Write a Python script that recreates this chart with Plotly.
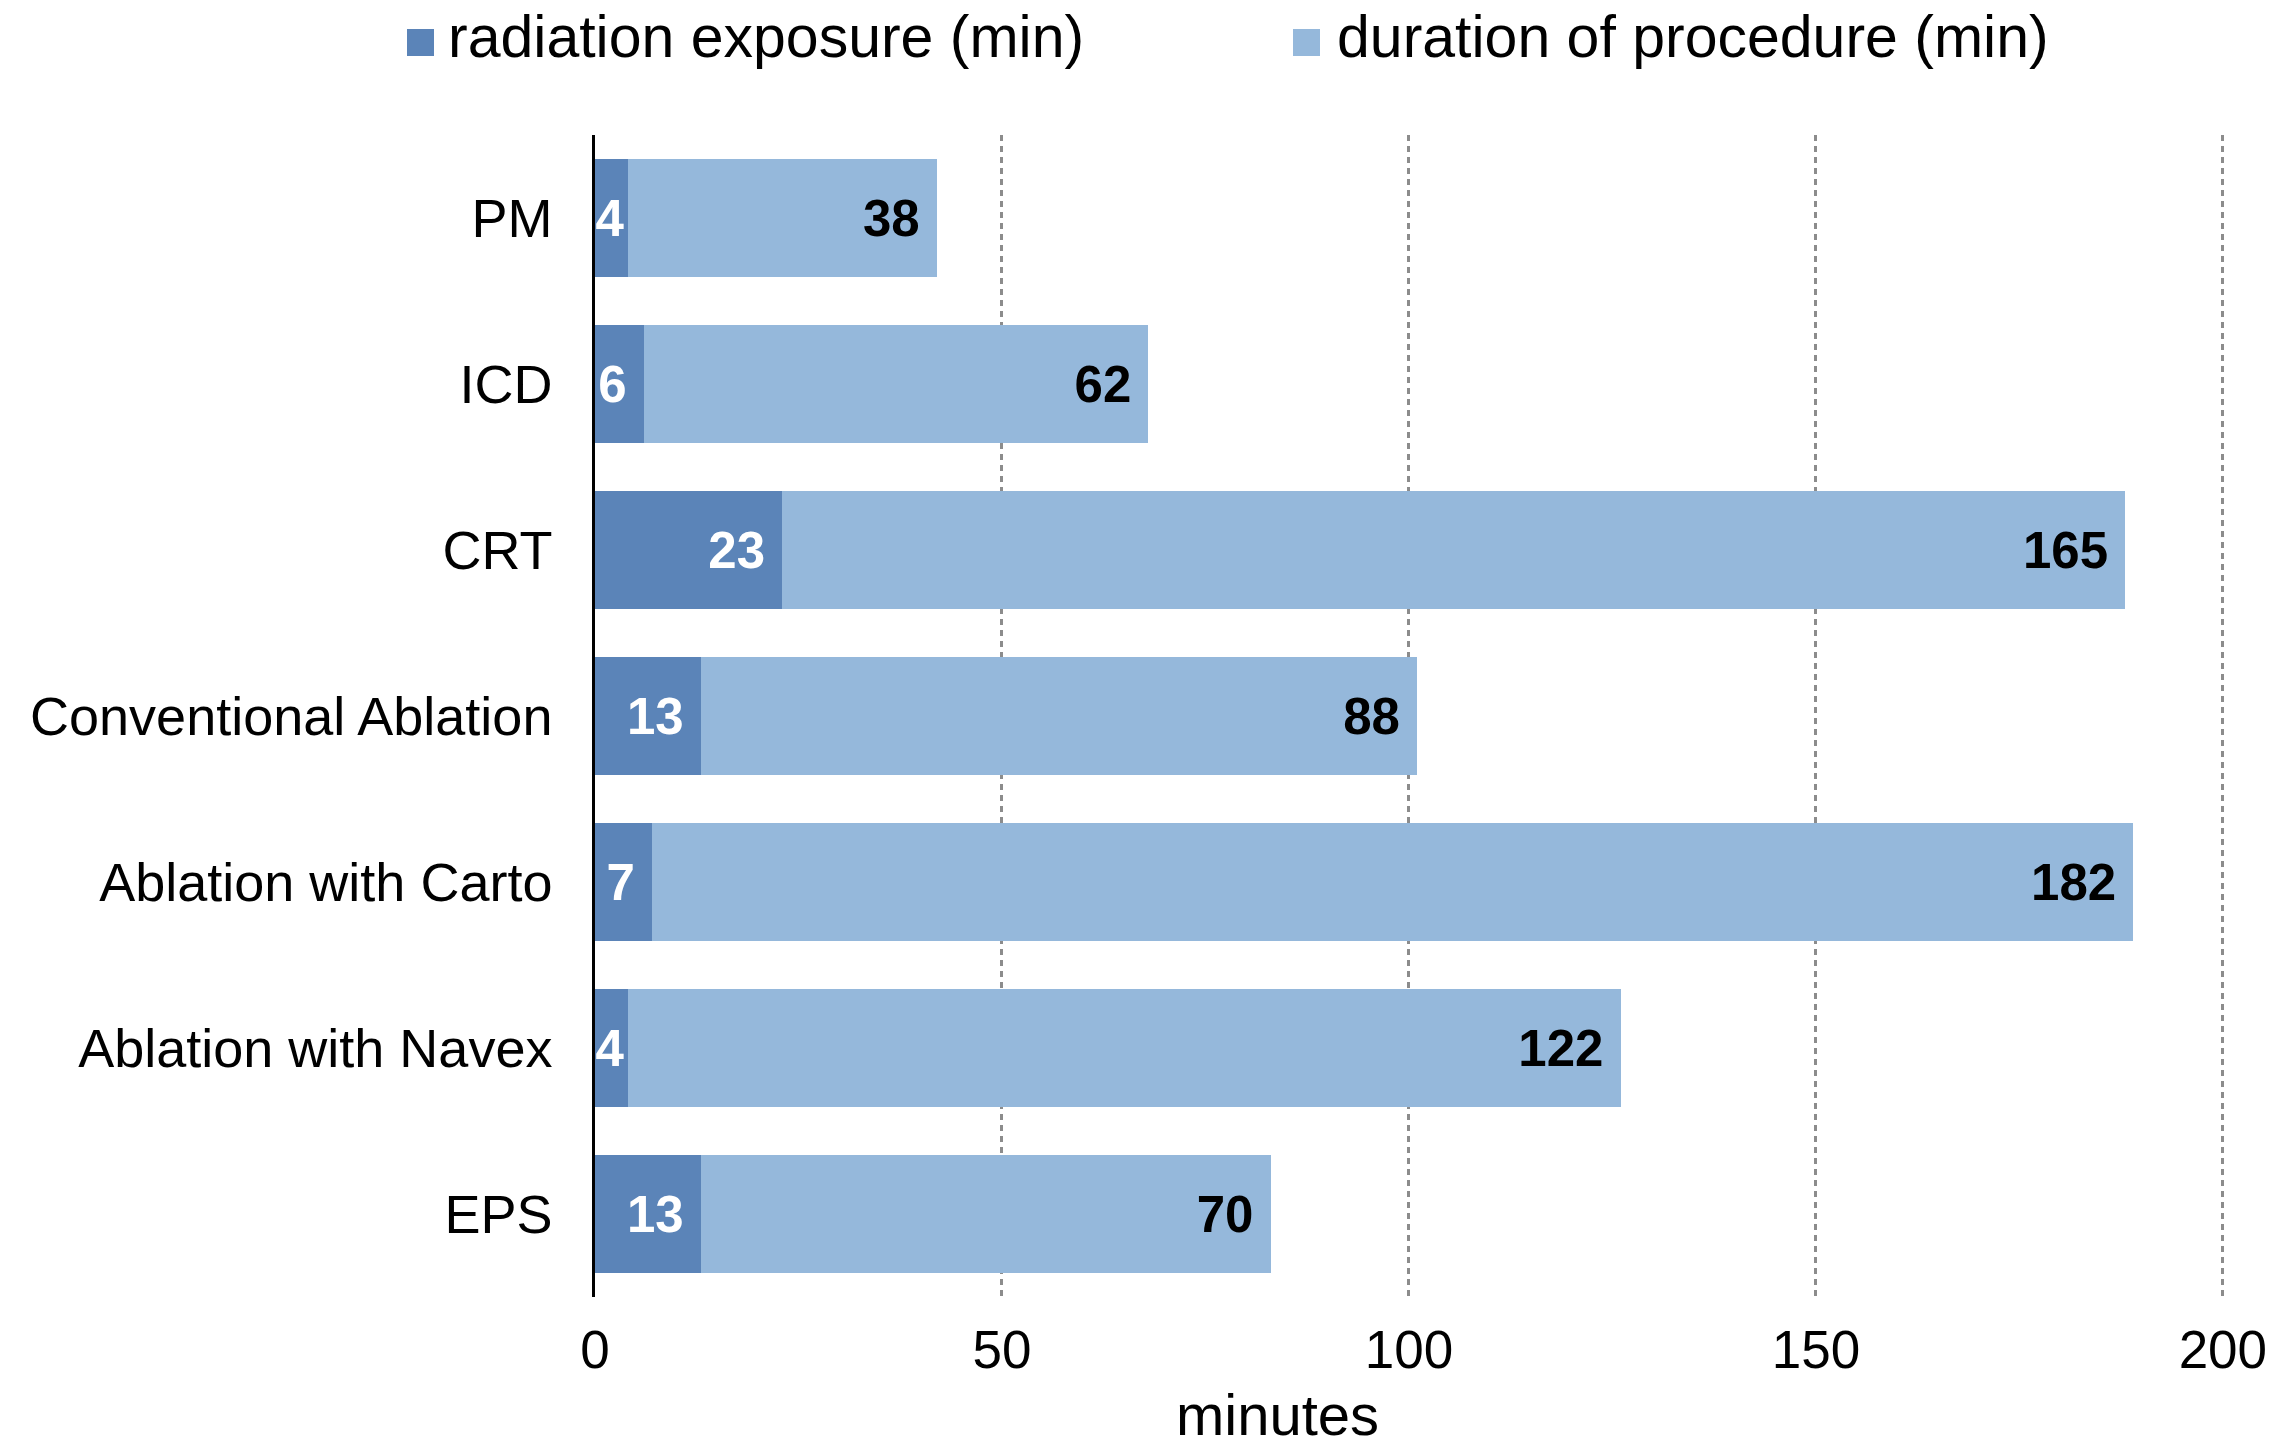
import plotly.graph_objects as go

# ---------------- data ----------------
categories = ["PM", "ICD", "CRT", "Conventional Ablation",
              "Ablation with Carto", "Ablation with Navex", "EPS"]
radiation = [4, 6, 23, 13, 7, 4, 13]
duration = [38, 62, 165, 88, 182, 122, 70]
series_names = ["radiation exposure (min)", "duration of procedure (min)"]
x_ticks = [0, 50, 100, 150, 200]
x_range = [0, 201]
x_title = "minutes"

# ---------------- layout constants ----------------
W, H = 2288, 1449
L, R, T, B = 595, 57, 135, 152
PW = W - L - R
PH = H - T - B


def px_x(px):
    return (px - L) / PW


def px_y(py):
    return (H - B - py) / PH


DARK = "#5B84B8"
LIGHT = "#95B8DB"
FONT = "Liberation Sans"
LABEL_SIZE = 51
PX_PER_UNIT = PW / (x_range[1] - x_range[0])
NBSP = "\u00a0"


def inside_label(v):
    # add a trailing pad (like the original's inside-end label offset) only if it fits
    need = len(str(v)) * 0.556 * LABEL_SIZE + 0.278 * LABEL_SIZE + 6
    return f"{v}{NBSP}" if v * PX_PER_UNIT >= need else str(v)


fig = go.Figure()
fig.add_trace(go.Bar(
    y=categories, x=radiation, orientation="h", name=series_names[0],
    marker=dict(color=DARK, line=dict(width=0)),
    text=[inside_label(v) for v in radiation],
    textposition="inside", insidetextanchor="end", textangle=0,
    constraintext="none",
    insidetextfont=dict(family=FONT, size=LABEL_SIZE, color="white", weight="bold"),
    hoverinfo="x+y+name",
))
fig.add_trace(go.Bar(
    y=categories, x=duration, orientation="h", name=series_names[1],
    marker=dict(color=LIGHT, line=dict(width=0)),
    text=[inside_label(v) for v in duration],
    textposition="inside", insidetextanchor="end", textangle=0,
    constraintext="none",
    insidetextfont=dict(family=FONT, size=LABEL_SIZE, color="black", weight="bold"),
    hoverinfo="x+y+name",
))

fig.update_layout(
    barmode="stack", bargap=0.295,
    width=W, height=H,
    margin=dict(l=L, r=R, t=T, b=B, pad=0),
    plot_bgcolor="white", paper_bgcolor="white",
    showlegend=False,
    font=dict(family=FONT, color="black"),
)
fig.update_xaxes(
    range=x_range, tickvals=x_ticks, showgrid=True,
    gridcolor="#8C8C8C", gridwidth=2.5, griddash="6px,5px",
    zeroline=False, showline=False, ticks="",
    tickfont=dict(family=FONT, size=53, color="black"),
    ticklabelstandoff=17,
)
fig.update_yaxes(
    range=[len(categories) - 0.5, -0.5],
    showline=True, linecolor="black", linewidth=2.5,
    showgrid=False, zeroline=False, ticks="",
    tickfont=dict(family=FONT, size=54, color="black"),
    ticklabelstandoff=29,
)

# ---------------- legend (drawn manually for large square keys) ----------------
legend_items = [
    (series_names[0], DARK, 407, 446),
    (series_names[1], LIGHT, 1293, 1335),
]
for name, color, mx, tx in legend_items:
    fig.add_shape(type="rect", xref="paper", yref="paper",
                  x0=px_x(mx), x1=px_x(mx + 27), y0=px_y(56), y1=px_y(29),
                  fillcolor=color, line=dict(width=0))
    fig.add_annotation(text=name, xref="paper", yref="paper",
                       x=px_x(tx), y=px_y(37), xanchor="left", yanchor="middle",
                       showarrow=False, font=dict(family=FONT, size=59, color="black"))

# ---------------- axis title ----------------
fig.add_annotation(text=x_title, xref="paper", yref="paper",
                   x=px_x(1277), y=px_y(1414), xanchor="center", yanchor="middle",
                   showarrow=False, font=dict(family=FONT, size=58, color="black"))

fig.write_html("out.html", config={"displayModeBar": False},
               post_script="document.body.style.margin='0';")
